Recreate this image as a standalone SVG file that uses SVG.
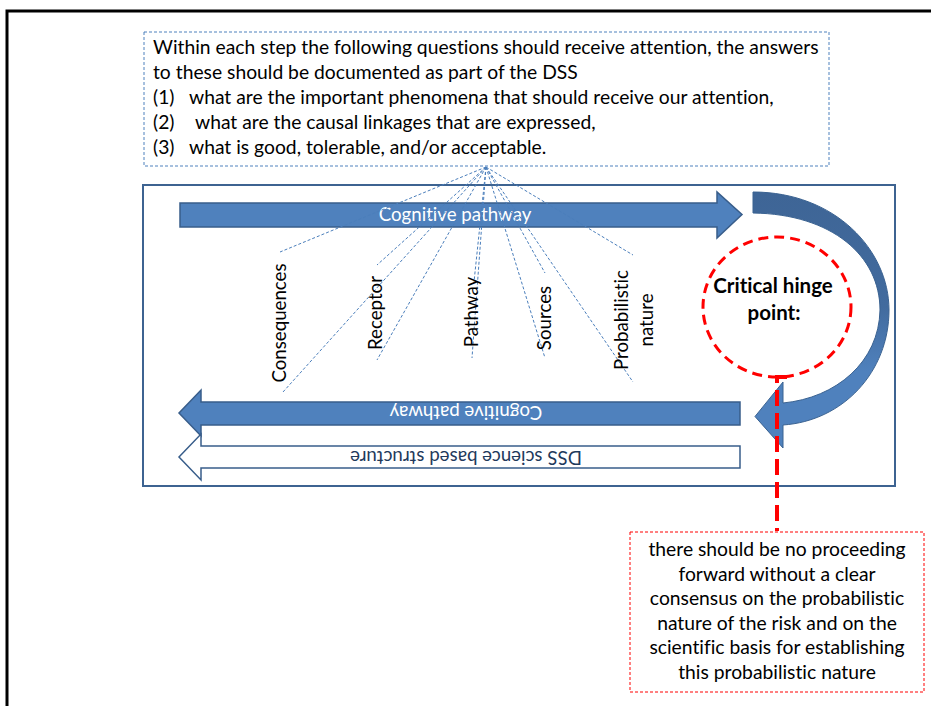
<svg xmlns="http://www.w3.org/2000/svg" width="931" height="706" viewBox="0 0 931 706">
<style>
text{font-family:Lato,"Open Sans","Liberation Sans",sans-serif;font-size:19.3px;fill:#000;font-variant-ligatures:none;font-feature-settings:"liga" 0}
.mid{text-anchor:middle}
.lbl{font-size:18.7px}
.wht{fill:#fff;font-size:18.7px}
.navy{fill:#1f3a5c;font-size:18.7px}
.bold{font-weight:bold;font-size:20.5px}
.arrow{fill:#4f81bd;stroke:#385d8a;stroke-width:1.5}
.warrow{fill:#fff;stroke:#385d8a;stroke-width:1.5}
.fan{stroke:#4a7ebb;stroke-width:1;stroke-dasharray:3 2;fill:none}
.bluebox{fill:#fff;stroke:#4f81bd;stroke-width:1;stroke-dasharray:3 2}
.redbox{fill:#fff;stroke:#ff0000;stroke-width:1;stroke-dasharray:3 2}
</style>
<defs>
<linearGradient id="cg" x1="0" y1="0" x2="0" y2="1">
<stop offset="0" stop-color="#3e6596"/>
<stop offset="0.45" stop-color="#426b9e"/>
<stop offset="0.7" stop-color="#4f81bd"/>
<stop offset="1" stop-color="#4f81bd"/>
</linearGradient>
</defs>
<rect width="931" height="706" fill="#fff"/>
<path d="M7,706 V11 H931" fill="none" stroke="#000" stroke-width="3"/>

<g id="frame">
<rect x="143" y="185" width="752" height="301" fill="none" stroke="#3d6391" stroke-width="2"/>
</g>

<g id="question-box">
<rect class="bluebox" x="144" y="32" width="685" height="134"/>
<text x="153" y="54">Within each step the following questions should receive attention, the answers</text>
<text x="153" y="79">to these should be documented as part of the DSS</text>
<text x="153" y="104">(1)</text><text x="189" y="104">what are the important phenomena that should receive our attention,</text>
<text x="153" y="129">(2)</text><text x="195" y="129">what are the causal linkages that are expressed,</text>
<text x="153" y="154">(3)</text><text x="189" y="154">what is good, tolerable, and/or acceptable.</text>
</g>

<g id="top-arrow">
<path class="arrow" d="M180,203 H717 V192 L742,214.5 L717,238 V227 H180 Z"/>
<text class="mid wht" x="455" y="221">Cognitive pathway</text>
</g>

<g id="curved-arrow">
<path d="M753,192 C835,192 889,250 889,310 C889,372 843,421 783,425 L783,448 L755,416.5 L783,382 L783,403 C836,398 879,362 880,310 C880,256 832,214 753,213 Z" fill="url(#cg)" stroke="#3a6291" stroke-width="1"/>
</g>

<g id="bottom-arrow">
<path class="arrow" d="M740,402 H201 V390 L179,413 L201,436 V425 H740 Z"/>
<text class="mid wht" x="466" y="420" transform="rotate(180 466 413)">Cognitive pathway</text>
</g>

<g id="dss-arrow">
<path class="warrow" d="M740,446 H201 V434 L179,457 L201,480 V468 H740 Z"/>
<text class="mid navy" x="466" y="463" transform="rotate(180 466 457)">DSS science based structure</text>
</g>

<g id="connectors">
<path class="fan" d="M486,167 L280,252 M486,167 L283,392 M486,167 L377,265 M486,167 L377,360 M486,167 L474,282 M486,167 L472,358 M486,167 L545,273 M486,167 L545,358 M486,167 L633,255 M486,167 L633,382"/>
</g>

<g id="label-consequences"><text class="mid lbl" x="286" y="323" transform="rotate(-90 286 323)">Consequences</text></g>
<g id="label-receptor"><text class="mid lbl" x="382" y="313" transform="rotate(-90 382 313)">Receptor</text></g>
<g id="label-pathway"><text class="mid lbl" x="478" y="312" transform="rotate(-90 478 312)">Pathway</text></g>
<g id="label-sources"><text class="mid lbl" x="551" y="318" transform="rotate(-90 551 318)">Sources</text></g>
<g id="label-probabilistic"><text class="mid lbl" transform="rotate(-90 628 320)" x="628" y="320">Probabilistic</text><text class="mid lbl" transform="rotate(-90 653 320)" x="653" y="320">nature</text></g>

<g id="hinge">
<ellipse cx="777" cy="307" rx="74" ry="70" fill="none" stroke="#ff0000" stroke-width="3" stroke-dasharray="10 6"/>
<text class="mid bold" x="773" y="293">Critical hinge</text>
<text class="mid bold" x="774" y="320">point:</text>
</g>

<g id="connector-red">
<path d="M787,377 H777 V531" fill="none" stroke="#ff0000" stroke-width="4" stroke-dasharray="16 7"/>
</g>

<g id="consensus-box">
<rect class="redbox" x="630" y="532" width="294" height="160"/>
<text class="mid" x="777" y="556">there should be no proceeding</text>
<text class="mid" x="777" y="580.5">forward without a clear</text>
<text class="mid" x="777" y="605">consensus on the probabilistic</text>
<text class="mid" x="777" y="629.5">nature of the risk and on the</text>
<text class="mid" x="777" y="654">scientific basis for establishing</text>
<text class="mid" x="777" y="678.5">this probabilistic nature</text>
</g>
</svg>
